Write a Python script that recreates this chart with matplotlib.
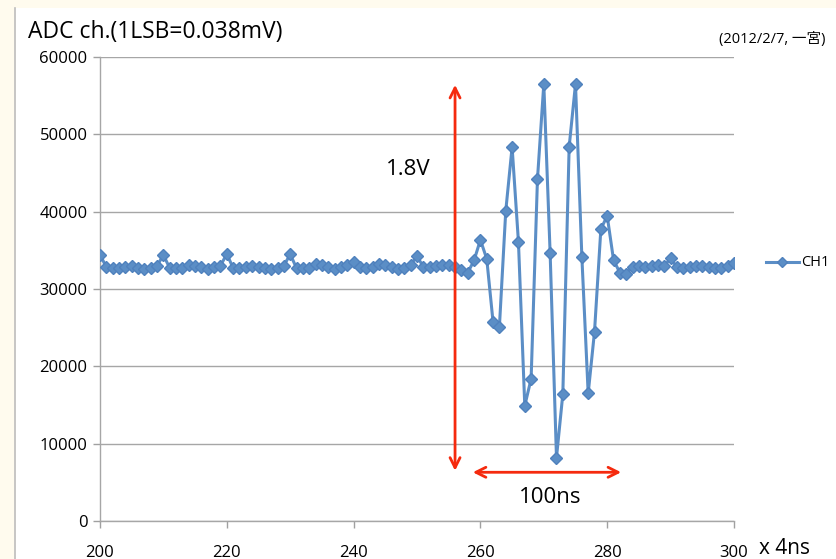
import matplotlib
matplotlib.use("Agg")
import matplotlib.pyplot as plt
from matplotlib.patches import Rectangle
from matplotlib.lines import Line2D

plt.rcParams['font.family'] = ['Open Sans', 'Noto Sans CJK JP', 'DejaVu Sans']

x_start = 200
ch1 = [34450, 32820, 32700, 32700, 32900, 32950, 32750, 32600, 32750, 33000,
       34400, 32700, 32750, 32700, 33050, 33000, 32800, 32600, 32800, 33000,
       34540, 32700, 32700, 32850, 33000, 32850, 32700, 32600, 32750, 33000,
       34500, 32700, 32750, 32700, 33250, 33100, 32850, 32550, 32850, 33100,
       33500, 32850, 32700, 32850, 33250, 33100, 32850, 32550, 32700, 33100,
       34250, 32850, 32850, 33000, 33100, 33100, 32850, 32400, 32100, 33700,
       36350, 33900, 25700, 25150, 40100, 48350, 36100, 14900, 18400, 44200,
       56500, 34600, 8200, 16400, 48400, 56500, 34200, 16500, 24500, 37750,
       39450, 33750, 32100, 31950, 32900, 32950, 32850, 33000, 33050, 32950,
       34000, 32800, 32750, 32850, 33000, 32950, 32850, 32700, 32750, 32950,
       33300]
xs = list(range(x_start, x_start + len(ch1)))
xticks = [200, 220, 240, 260, 280, 300]
yticks = [0, 10000, 20000, 30000, 40000, 50000, 60000]

W, H = 837, 559
fig = plt.figure(figsize=(8.37, 5.59), dpi=100)
fig.patch.set_facecolor('#FFFBEE')
# white panel
fig.add_artist(Rectangle((16/W, 0), 1 - 16/W, 1 - 8/H, transform=fig.transFigure,
                         facecolor='white', edgecolor='none', zorder=0))
fig.add_artist(Line2D([15.5/W, 15.5/W], [0, 1 - 8/H], transform=fig.transFigure,
                      color='#BDBDBD', lw=1.2))

ax = fig.add_axes([100/W, 38/H, 634/W, 464/H])
ax.set_facecolor('white')
line_color = '#5B8EC6'
ax.plot(xs, ch1, color=line_color, lw=2.2, marker='D', ms=6.5,
        markerfacecolor=line_color, markeredgecolor='#4F81BD', label='CH1', zorder=3)
ax.set_xlim(200, 300)
ax.set_ylim(0, 60000)
ax.set_xticks(xticks)
ax.set_yticks(yticks)
ax.tick_params(axis='both', labelsize=12, colors='#A0A0A0', labelcolor='black',
               length=5, width=1, direction='out')
ax.tick_params(axis='x', pad=12)
ax.tick_params(axis='y', pad=4)
ax.grid(axis='y', color='#A6A6A6', lw=1)
ax.set_axisbelow(True)
for s in ['top', 'right']:
    ax.spines[s].set_visible(False)
for s in ['left', 'bottom']:
    ax.spines[s].set_color('#A6A6A6')
    ax.spines[s].set_linewidth(1)

# annotations
ax.annotate('', xy=(256, 6500), xytext=(256, 56400),
            arrowprops=dict(arrowstyle='<->', color='#F52A0E', lw=2, mutation_scale=18,
                            shrinkA=0, shrinkB=0), zorder=4)
ax.annotate('', xy=(258.8, 6300), xytext=(282.2, 6300),
            arrowprops=dict(arrowstyle='<->', color='#F52A0E', lw=2, mutation_scale=18,
                            shrinkA=0, shrinkB=0), zorder=4)
ax.text(248.6, 45500, '1.8V', fontsize=16, ha='center', va='center')
ax.text(271, 3100, '100ns', fontsize=16, ha='center', va='center')

# legend (manual, right of plot)
ly = 1 - 262/H
fig.add_artist(Line2D([766/W, 799/W], [ly, ly], transform=fig.transFigure,
                      color=line_color, lw=2.2))
fig.add_artist(Line2D([782.5/W], [ly], transform=fig.transFigure, color=line_color,
                      marker='D', ms=5.5, markeredgecolor='#4F81BD', lw=0))
fig.text(801/W, ly, 'CH1', fontsize=10.5, ha='left', va='center')

fig.text(28/W, 1 - 32/H, 'ADC ch.(1LSB=0.038mV)', fontsize=16.5, ha='left', va='center')
fig.text(826/W, 1 - 40/H, '(2012/2/7, 一宮)', fontsize=10.5, ha='right', va='center')
fig.text(759/W, 1 - 549/H, 'x 4ns', fontsize=15, ha='left', va='center')

fig.savefig('out.png', dpi=100)
